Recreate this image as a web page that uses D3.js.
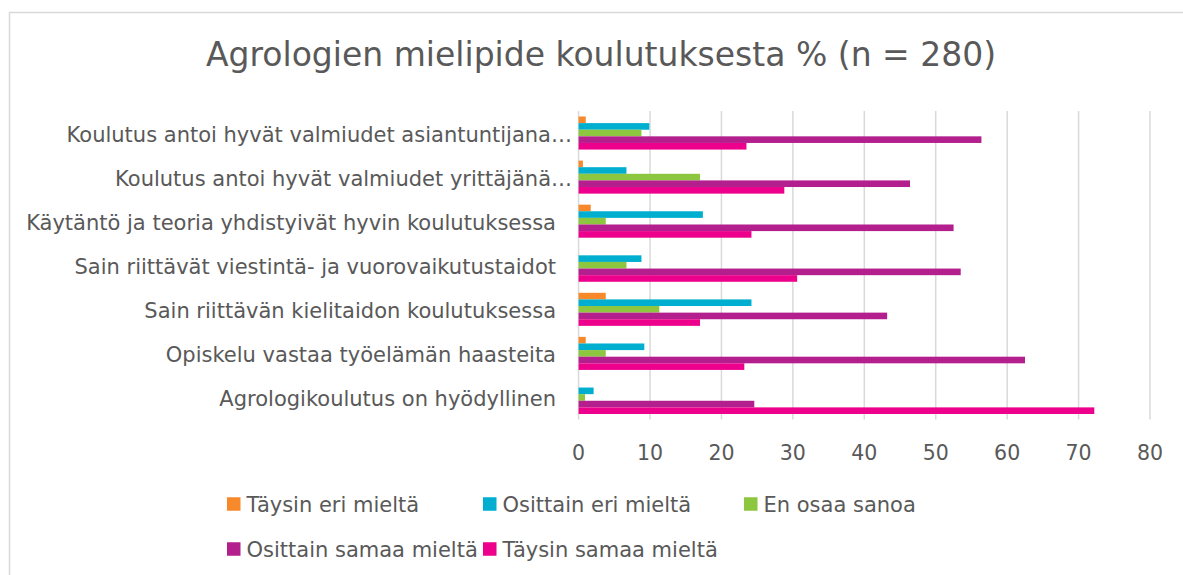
<!DOCTYPE html>
<html>
<head>
<meta charset="utf-8">
<script src="https://cdn.jsdelivr.net/npm/d3@7"></script>
<style>
  body { margin: 0; background: #fff; }
  svg text { font-family: 'DejaVu Sans', Verdana, sans-serif; fill: #595959; }
</style>
</head>
<body>
<main></main>
<script>
// data
var categories = [
    'Koulutus antoi hyvät valmiudet asiantuntijana…',
    'Koulutus antoi hyvät valmiudet yrittäjänä…',
    'Käytäntö ja teoria yhdistyivät hyvin koulutuksessa',
    'Sain riittävät viestintä- ja vuorovaikutustaidot',
    'Sain riittävän kielitaidon koulutuksessa',
    'Opiskelu vastaa työelämän haasteita',
    'Agrologikoulutus on hyödyllinen'
]
var seriesNames = ['Täysin eri mieltä', 'Osittain eri mieltä', 'En osaa sanoa', 'Osittain samaa mieltä', 'Täysin samaa mieltä']
var taysinEri = [1.0, 0.6, 1.7, 0, 3.8, 1.0, 0]
var osittainEri = [9.9, 6.7, 17.4, 8.8, 24.2, 9.2, 2.1]
var enOsaa = [8.8, 17.0, 3.8, 6.7, 11.3, 3.8, 0.9]
var osittainSamaa = [56.4, 46.4, 52.5, 53.5, 43.2, 62.5, 24.6]
var taysinSamaa = [23.5, 28.8, 24.2, 30.6, 17.0, 23.2, 72.2]
var xTicks = [0, 10, 20, 30, 40, 50, 60, 70, 80]
var colors = ['#F7892B', '#00AECF', '#8DC63F', '#B41F8E', '#EC008C']

var series = [taysinEri, osittainEri, enOsaa, osittainSamaa, taysinSamaa]

var width = 1183,
    height = 575

var plot = { left: 578.6, right: 1150, top: 111, bottom: 419.5 }

var svg = d3.select('main').append('svg')
    .attr('width', width)
    .attr('height', height)

// chart border
svg.append('rect')
    .attr('x', 9.5)
    .attr('y', 12.5)
    .attr('width', width + 10)
    .attr('height', height)
    .attr('fill', 'none')
    .attr('stroke', '#d9d9d9')
    .attr('stroke-width', 1.5)

// title
svg.append('text')
    .attr('x', 601)
    .attr('y', 66)
    .attr('text-anchor', 'middle')
    .attr('font-size', 33)
    .text('Agrologien mielipide koulutuksesta % (n = 280)')

// scales
var x = d3.scaleLinear().domain([0, 80]).range([plot.left, plot.right])
var y = d3.scaleBand()
    .domain(categories)
    .range([plot.top, plot.bottom])
    .paddingInner(0.25)
    .paddingOuter(0.125)
var ySub = d3.scaleBand()
    .domain(d3.range(series.length))
    .range([0, y.bandwidth()])

// gridlines
svg.append('g')
    .selectAll('line')
    .data(xTicks)
    .enter()
    .append('line')
    .attr('x1', d => x(d))
    .attr('x2', d => x(d))
    .attr('y1', plot.top)
    .attr('y2', plot.bottom)
    .attr('stroke', '#d9d9d9')
    .attr('stroke-width', 1.5)

// bars
var groups = svg.append('g')
    .selectAll('g')
    .data(series)
    .enter()
    .append('g')
    .attr('fill', (d, i) => colors[i])

groups.each(function (values, si) {
    d3.select(this).selectAll('rect')
        .data(values)
        .enter()
        .append('rect')
        .attr('x', x(0))
        .attr('y', (d, ci) => y(categories[ci]) + ySub(si))
        .attr('width', d => x(d) - x(0))
        .attr('height', ySub.bandwidth())
})

// x-axis tick labels
svg.append('g')
    .selectAll('text')
    .data(xTicks)
    .enter()
    .append('text')
    .attr('x', d => x(d))
    .attr('y', 460)
    .attr('text-anchor', 'middle')
    .attr('font-size', 20.5)
    .text(d => d)

// category labels
svg.append('g')
    .selectAll('text')
    .data(categories)
    .enter()
    .append('text')
    .attr('x', d => d.endsWith('…') ? 572 : 556)
    .attr('y', d => y(d) + y.bandwidth() / 2 + 8.5)
    .attr('text-anchor', 'end')
    .attr('font-size', 21)
    .text(d => d)

// legend, three per row
var legendCols = [227, 483, 744]
var legend = svg.append('g')
    .selectAll('g')
    .data(seriesNames)
    .enter()
    .append('g')
    .attr('transform', (d, i) => `translate(${legendCols[i % 3]}, ${504 + Math.floor(i / 3) * 45})`)

legend.append('rect')
    .attr('x', 0)
    .attr('y', -6.75)
    .attr('width', 13.5)
    .attr('height', 13.5)
    .attr('fill', (d, i) => colors[i])

legend.append('text')
    .attr('x', 19.5)
    .attr('y', 7.7)
    .attr('font-size', 21)
    .text(d => d)
</script>
</body>
</html>
